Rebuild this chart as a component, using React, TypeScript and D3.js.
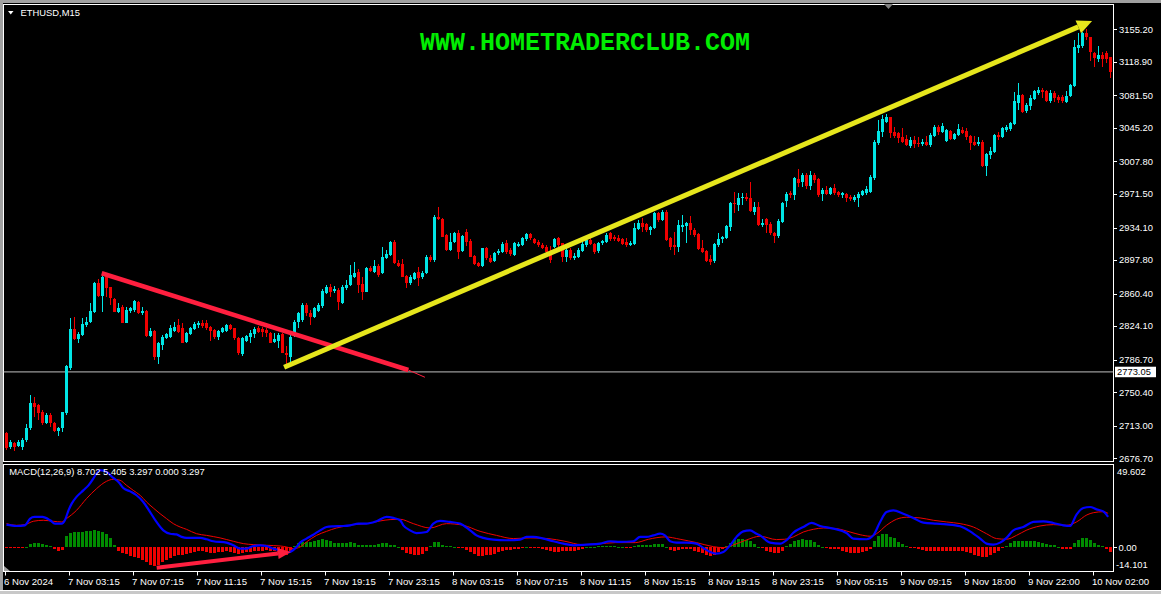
import React from 'react';
import * as d3 from 'd3';

// ---------- DATA (ETHUSD M15) ----------
const opens = [
2705.2,2689.6,2694.1,2690.4,2689.0,2697.1,2710.1,2738.7,2736.1,2728.7,
2715.7,2725.0,2716.4,2707.5,2710.1,2726.9,2777.1,2820.6,2809.8,2814.3,
2825.4,2828.4,2840.3,2872.6,2857.8,2879.3,2867.5,2854.1,2840.3,2845.8,
2828.0,2841.4,2842.1,2851.4,2838.4,2841.0,2813.2,2819.2,2790.1,2803.1,
2811.3,2812.4,2819.2,2825.4,2822.0,2806.5,2815.4,2821.0,2825.1,2828.0,
2827.3,2823.6,2819.9,2812.4,2817.6,2819.2,2825.4,2821.7,2811.3,2793.1,
2807.9,2812.4,2815.4,2821.7,2820.6,2819.9,2816.9,2806.5,2807.6,2815.4,
2794.6,2789.7,2814.3,2829.1,2831.0,2847.7,2838.5,2834.0,2841.4,2846.6,
2861.5,2868.2,2863.3,2864.4,2850.3,2866.3,2870.0,2879.3,2884.2,2871.1,
2862.6,2888.6,2884.8,2891.2,2883.8,2899.8,2903.5,2918.3,2894.9,2893.4,
2880.1,2871.9,2876.4,2884.9,2878.6,2883.1,2901.6,2897.9,2945.3,2943.1,
2925.6,2909.1,2918.3,2927.6,2907.9,2929.0,2919.5,2902.4,2894.9,2891.2,
2910.9,2899.8,2897.1,2905.3,2907.1,2916.5,2909.1,2903.5,2913.8,2914.6,
2921.0,2926.6,2921.0,2918.3,2914.6,2912.7,2907.1,2912.7,2922.8,2916.5,
2900.9,2909.1,2899.8,2900.9,2908.3,2914.6,2920.2,2915.7,2908.3,2916.5,
2918.3,2927.6,2923.2,2922.8,2921.0,2918.3,2914.6,2915.7,2932.1,2938.8,
2938.0,2931.4,2933.2,2950.0,2942.5,2951.7,2922.1,2914.6,2912.7,2935.0,
2935.8,2938.8,2931.4,2926.9,2910.9,2907.9,2898.7,2897.1,2914.6,2921.0,
2922.1,2935.0,2961.8,2959.2,2966.7,2968.5,2967.1,2951.7,2957.3,2936.9,
2943.3,2938.0,2928.3,2924.7,2940.6,2964.0,2972.4,2970.5,2987.9,2985.4,
2992.9,2980.5,2992.9,2987.9,2971.2,2976.0,2971.6,2977.9,2974.2,2970.5,
2971.6,2968.5,2964.8,2966.7,2970.5,2973.0,2974.2,2989.0,3028.1,3041.1,
3052.2,3057.1,3041.1,3039.4,3035.6,3032.6,3025.1,3031.8,3028.9,3027.3,
3029.9,3026.2,3036.3,3046.0,3041.1,3031.0,3041.8,3032.6,3037.4,3042.9,
3041.8,3036.3,3029.9,3027.3,3029.9,3002.8,3015.1,3018.8,3037.4,3034.8,
3042.9,3043.7,3050.0,3073.4,3081.9,3064.5,3069.7,3077.2,3084.5,3087.5,
3086.8,3075.6,3084.5,3080.1,3079.4,3074.5,3080.9,3092.0,3134.0,3136.6,
3151.4,3146.3,3128.5,3121.8,3126.6,3128.5,3124.0
];
const highs = [
2706.4,2697.1,2695.2,2697.1,2699.0,2714.9,2747.4,2745.4,2737.2,2730.5,
2726.9,2726.9,2717.5,2711.9,2728.7,2780.8,2832.9,2834.7,2818.0,2832.9,
2834.7,2850.3,2873.7,2876.5,2882.3,2883.1,2868.1,2855.2,2849.6,2847.7,
2845.8,2845.8,2853.3,2852.5,2845.8,2842.1,2821.8,2819.9,2806.8,2814.3,
2816.9,2825.4,2829.1,2831.8,2827.3,2818.0,2823.6,2829.1,2829.9,2831.0,
2831.0,2824.3,2820.6,2819.9,2823.6,2826.5,2826.1,2822.5,2812.4,2811.7,
2814.3,2819.9,2823.6,2824.3,2823.6,2821.7,2818.0,2816.9,2816.1,2816.1,
2801.5,2817.7,2831.0,2840.3,2849.6,2850.0,2842.1,2845.5,2850.0,2865.6,
2870.0,2871.1,2868.9,2866.7,2870.0,2875.6,2892.3,2896.1,2887.6,2879.3,
2890.1,2891.2,2897.9,2893.4,2912.7,2909.1,2919.4,2920.2,2897.9,2898.7,
2881.2,2881.2,2884.9,2890.5,2885.7,2903.5,2903.5,2948.0,2957.3,2944.2,
2926.7,2927.6,2929.4,2931.4,2925.6,2932.1,2921.0,2903.5,2896.0,2911.6,
2912.7,2903.5,2907.1,2909.7,2918.3,2920.2,2910.9,2918.3,2918.3,2924.0,
2928.3,2928.3,2922.1,2920.2,2916.5,2914.6,2913.5,2922.1,2924.0,2916.9,
2910.9,2910.9,2905.3,2911.3,2918.0,2923.2,2922.5,2916.9,2918.3,2920.2,
2927.6,2929.4,2925.8,2925.8,2922.1,2922.1,2919.0,2939.5,2942.5,2944.4,
2938.8,2935.8,2951.7,2951.7,2953.6,2953.6,2923.9,2929.4,2942.5,2948.1,
2940.6,2946.9,2933.2,2927.6,2920.2,2909.1,2903.5,2916.5,2927.6,2924.7,
2936.9,2962.9,2974.2,2973.0,2972.4,2972.4,2985.3,2962.9,2962.9,2943.3,
2944.4,2940.6,2929.4,2943.3,2962.6,2974.2,2975.3,2990.2,2999.7,2994.8,
2994.8,2997.7,2994.8,2989.1,2977.9,2980.5,2979.7,2982.7,2975.3,2974.2,
2972.4,2970.5,2970.5,2974.2,2976.0,2980.5,2992.9,3031.8,3054.1,3059.7,
3060.8,3057.8,3046.0,3040.1,3044.9,3037.4,3034.8,3036.3,3034.8,3032.6,
3036.3,3039.4,3048.6,3048.6,3050.4,3043.7,3042.9,3039.4,3049.7,3046.0,
3044.9,3037.4,3036.3,3034.8,3031.8,3017.7,3024.3,3038.5,3040.1,3046.0,
3048.6,3052.2,3085.7,3095.0,3083.1,3072.7,3081.9,3087.5,3091.2,3089.4,
3087.5,3087.5,3086.8,3081.9,3081.9,3086.8,3094.2,3143.3,3151.4,3152.5,
3155.2,3147.0,3130.2,3136.6,3130.2,3131.4,3124.7
];
const lows = [
2685.9,2686.7,2685.2,2689.6,2685.9,2695.2,2708.3,2723.1,2719.4,2713.8,
2714.9,2711.9,2706.4,2701.6,2706.4,2725.0,2775.2,2808.7,2805.0,2813.2,
2823.6,2827.3,2839.2,2857.0,2840.3,2857.0,2847.7,2839.6,2839.2,2827.3,
2827.3,2838.4,2840.3,2837.7,2836.6,2812.4,2811.7,2786.4,2781.9,2797.5,
2809.8,2810.6,2817.6,2816.9,2805.0,2805.0,2814.3,2819.9,2822.4,2821.7,
2819.9,2807.9,2810.2,2808.7,2816.1,2818.0,2819.9,2808.7,2792.0,2790.9,
2806.8,2805.0,2810.6,2816.9,2812.4,2812.4,2805.0,2805.0,2799.4,2793.9,
2780.8,2784.2,2812.4,2821.7,2829.1,2835.5,2825.4,2832.9,2839.9,2844.4,
2860.0,2857.0,2861.1,2842.1,2848.8,2864.4,2868.9,2877.8,2860.8,2853.3,
2861.9,2884.5,2883.3,2879.3,2882.3,2898.5,2902.4,2893.4,2890.1,2878.6,
2866.3,2870.0,2875.6,2868.9,2876.7,2882.3,2896.1,2896.1,2942.4,2923.1,
2908.2,2907.9,2917.2,2898.9,2907.1,2913.9,2901.0,2892.3,2889.8,2890.5,
2897.9,2894.2,2896.1,2903.5,2905.3,2904.6,2902.4,2902.4,2912.7,2913.5,
2919.4,2920.2,2915.4,2912.7,2909.8,2905.3,2894.2,2910.9,2912.7,2896.1,
2896.1,2897.9,2897.9,2899.7,2906.8,2912.7,2914.6,2904.6,2905.3,2914.6,
2917.2,2919.4,2919.4,2918.3,2914.6,2912.7,2913.5,2914.6,2931.4,2929.4,
2929.4,2925.8,2932.5,2940.6,2941.4,2919.4,2909.1,2903.5,2907.1,2929.4,
2916.5,2925.8,2923.9,2909.1,2905.3,2896.0,2892.3,2894.6,2912.7,2916.5,
2921.3,2930.5,2950.0,2952.9,2959.2,2963.7,2951.7,2948.1,2935.8,2934.4,
2927.6,2925.8,2917.2,2922.1,2939.5,2956.7,2966.7,2964.8,2979.7,2979.7,
2977.6,2976.0,2983.5,2968.5,2964.0,2970.5,2970.5,2970.5,2967.8,2966.7,
2962.9,2963.7,2962.9,2956.7,2969.4,2970.5,2973.0,2987.2,3026.2,3035.6,
3050.4,3033.8,3033.8,3028.8,3028.1,3025.1,3022.6,3022.6,3024.3,3025.1,
3024.7,3024.3,3034.8,3037.4,3040.0,3029.9,3031.8,3031.8,3036.3,3038.5,
3031.8,3020.6,3025.1,3025.1,3001.4,2991.7,3010.3,3017.7,3031.8,3033.7,
3041.1,3042.3,3048.6,3065.2,3062.3,3062.3,3065.2,3076.4,3081.9,3078.3,
3074.5,3072.7,3074.5,3073.4,3073.4,3073.4,3080.1,3090.6,3129.1,3134.0,
3143.3,3120.2,3113.5,3119.1,3113.5,3117.3,3100.6
];
const closes = [
2687.8,2695.2,2689.0,2695.2,2697.1,2710.1,2738.0,2734.2,2727.5,2715.7,
2725.0,2715.7,2707.5,2710.1,2728.0,2779.7,2821.0,2809.8,2815.4,2826.5,
2829.1,2841.0,2872.6,2857.8,2879.3,2866.3,2855.2,2840.3,2844.7,2828.0,
2842.1,2844.7,2852.2,2839.2,2841.0,2813.2,2819.2,2789.4,2805.0,2812.4,
2815.4,2821.7,2823.6,2818.0,2805.8,2816.9,2822.4,2826.2,2827.3,2824.3,
2822.4,2819.2,2811.7,2819.2,2821.7,2825.4,2821.0,2810.6,2793.9,2810.6,
2813.2,2816.9,2820.6,2818.0,2818.0,2816.1,2805.8,2809.5,2814.0,2794.6,
2792.0,2812.0,2829.1,2838.4,2847.7,2838.8,2834.0,2844.0,2847.7,2863.7,
2868.2,2862.6,2865.2,2851.4,2868.2,2870.0,2881.2,2883.8,2870.0,2862.6,
2888.6,2885.9,2891.2,2881.2,2901.6,2904.6,2918.3,2894.2,2891.2,2879.3,
2871.9,2879.3,2883.8,2877.5,2883.8,2901.6,2897.9,2946.2,2943.1,2923.7,
2909.1,2918.3,2927.6,2907.1,2924.6,2918.3,2901.6,2893.4,2891.2,2910.9,
2899.8,2896.1,2905.3,2908.2,2915.7,2907.1,2904.6,2916.5,2915.4,2922.8,
2926.6,2922.1,2916.5,2914.6,2910.9,2907.1,2897.9,2921.0,2914.6,2900.9,
2909.1,2899.8,2902.4,2909.1,2915.7,2920.2,2915.7,2907.1,2917.2,2919.4,
2925.8,2921.0,2921.0,2919.4,2915.7,2914.6,2917.2,2933.2,2939.5,2935.0,
2931.4,2935.0,2950.0,2942.5,2951.7,2920.2,2912.7,2912.7,2936.9,2936.9,
2939.5,2931.4,2925.8,2909.8,2907.1,2897.1,2896.0,2915.4,2921.0,2923.2,
2935.8,2961.1,2960.3,2967.5,2968.5,2965.6,2952.5,2957.3,2936.9,2938.8,
2936.9,2927.6,2924.7,2941.7,2961.5,2971.6,2970.5,2989.0,2983.5,2992.9,
2980.5,2992.9,2987.2,2970.5,2976.0,2971.6,2977.9,2972.4,2970.5,2972.4,
2966.7,2965.6,2967.8,2971.6,2975.3,2976.8,2990.9,3029.9,3042.3,3054.9,
3057.1,3039.4,3036.3,3033.8,3029.9,3026.2,3031.8,3027.3,3027.3,3029.9,
3026.2,3037.4,3046.0,3041.1,3047.5,3042.9,3032.6,3038.2,3043.7,3039.9,
3034.8,3028.1,3026.2,3029.9,3002.8,3016.2,3019.5,3037.4,3034.8,3044.9,
3046.6,3051.1,3075.3,3081.9,3063.4,3070.9,3078.3,3086.8,3087.5,3085.6,
3075.6,3084.5,3078.3,3076.4,3075.6,3080.9,3093.1,3135.8,3137.7,3151.4,
3146.3,3130.2,3122.9,3126.6,3121.8,3121.8,3107.9
];

const macdHist = [
-0.6,-0.6,-0.6,-0.5,-0.4,0.3,2.2,2.6,2.4,1.8,1.2,0.5,-1.0,-2.0,-1.6,
7.0,8.5,9.3,9.3,9.3,9.5,9.9,10.5,9.7,8.9,7.7,5.4,1.4,
-2.0,-3.4,-4.2,-5.0,-5.6,-6.2,-7.3,-8.9,-10.5,-11.3,
-10.5,-8.9,-7.3,-6.2,-5.4,-4.6,-4.6,-3.8,-3.4,-3.0,
-2.4,-2.4,-3.0,-3.4,-3.4,-3.0,-2.6,-2.4,-2.6,-3.4,
-3.8,-3.4,-3.0,-2.6,-2.2,-2.0,-2.0,-1.8,-2.0,-2.2,
-3.0,-4.0,-4.6,-3.0,
1.0,2.6,3.4,3.4,3.4,3.8,4.4,4.8,4.6,3.8,
2.6,2.6,2.6,2.8,3.2,2.4,1.6,1.4,1.4,1.4,
1.4,1.8,2.4,2.6,1.6,1.2,0.3,
-1.6,-3.2,-4.2,-4.4,-4.4,-3.8,-2.4,
0.6,3.0,3.4,1.6,0.8,0.6,0.2,
-0.4,-0.6,-1.4,-2.6,-4.0,-5.0,-5.0,-4.6,-4.4,-3.8,
-2.6,-2.0,-1.6,-1.4,-1.0,-0.8,-0.4,0.2,-0.2,-0.4,
-0.6,-1.0,-1.8,-2.4,-2.8,-2.8,-2.2,-2.0,-2.0,-2.4,
-1.6,-0.8,
0.2,0.4,0.4,0.6,0.6,0.8,0.8,0.6,0.4,0.2,
-0.2,-0.2,0.8,1.2,1.4,1.4,1.2,2.0,2.0,1.8,0.4,
-1.4,-2.4,-1.6,-1.2,-1.0,-1.2,-2.0,-2.8,-3.6,-4.4,-5.2,-4.4,-3.0,-1.0,
1.0,2.6,4.4,5.0,5.2,4.6,3.8,2.0,0.4,
-0.6,-2.0,-3.0,-3.4,-3.4,-2.4,
0.6,2.2,3.8,4.4,4.8,4.6,4.4,3.4,1.6,0.4,
-0.4,-0.8,-1.0,-1.2,-2.0,-2.6,-3.4,-3.4,-3.4,-3.0,-2.0,-0.8,
3.8,6.6,8.2,8.0,6.4,5.4,3.0,2.0,0.8,
-0.2,-0.4,-1.0,-1.6,-2.0,-2.2,-2.2,-2.2,-2.2,-2.0,
-2.0,-2.0,-2.0,-2.0,-2.6,-3.4,-4.6,-5.2,-5.8,-5.8,
-4.6,-3.4,-2.0,-0.6,
0.8,2.6,3.8,3.8,3.6,3.8,4.0,3.8,3.4,2.6,2.0,1.6,1.2,0.4,
-0.8,-1.0,-0.8,
2.6,4.4,5.6,5.6,4.4,2.6,1.4,0.6,
-0.8,-3.0
];

// MACD main line, sampled at bar positions
const macdMainIdx = [
0,2.5,4.6,5.9,7,9,10.9,12.1,13.8,14.6,15.5,16.3,17.5,19.2,20.5,21.7,22.5,23.4,25,26.7,
28,29.2,30.9,32.5,34.2,35.9,37.5,39.2,40.9,42.5,43.8,45,48.4,50,51.7,55,56.7,58.4,60,61.7,
63.4,65,66.7,68.4,70,70.9,72.5,73.4,75,76.7,78.4,80,81.7,84.2,85.9,88,90,92.5,95,96.7,
98.4,99.2,100.9,102.5,105,106.7,108.4,110.9,113.4,115.9,117.5,119.2,121.7,125,128.4,130,131.7,134.2,136.7,139.2,
141.7,145,148.4,150.9,153.4,156.7,158.4,160,161.7,163.4,164.6,165.9,167.5,170,172.5,174.2,175.9,177.5,179.2,180.9,
182.5,184.2,185.9,187.5,188.4,190.9,193.4,195,196.7,199.2,201.3,203.4,206.7,210,211.7,215,216.7,218.4,220,221.7,
224.2,226.7,229.2,232.5,235,238.4,240.9,243.4,245,246.7,248.4,250,251.7,254.2,256.7,259.2,261.7,264.2,265.9,267.5,
269.2,270.9,272.5,274.2,275.4
];
const macdMainVal = [
13.5,12.7,13.1,17.1,18.1,18.1,16.1,14.1,14.1,16.1,22.0,26.0,30.0,33.9,36.9,40.9,43.9,45.9,44.9,41.3,
38.9,35.3,33.3,31.0,27.0,21.0,15.1,10.1,8.1,7.7,6.2,5.6,5.6,4.8,3.6,2.8,1.2,-0.8,-0.8,0.8,
1.2,0.8,-0.8,-1.8,-3.2,-2.8,0.2,2.8,5.2,7.5,10.1,12.1,12.5,12.7,13.1,14.1,14.1,15.5,18.1,17.5,
16.1,13.1,10.1,8.5,9.1,14.1,15.7,15.1,14.1,10.1,7.1,5.6,4.6,4.2,4.6,6.2,6.2,5.2,3.6,2.2,
1.2,1.6,2.2,3.6,3.2,3.6,6.2,6.2,7.1,8.1,7.1,3.6,2.8,2.8,2.2,-0.4,-2.8,-3.8,-2.8,1.2,
6.2,9.5,10.1,8.1,7.1,2.8,2.2,4.2,8.7,12.1,14.5,12.7,11.1,8.5,5.2,4.8,7.1,15.1,21.0,22.0,
20.0,17.5,14.7,14.1,13.7,12.5,9.5,5.2,2.2,1.6,2.8,5.6,10.1,12.1,15.1,15.5,14.5,13.1,12.7,19.5,
23.4,24.0,22.6,21.4,18.1
];
// MACD signal line
const macdSignalIdx = [
0,2.5,4.6,6.7,9.2,11.7,13.8,15,17.5,20,22.5,25,26.7,28.4,30,31.7,33.4,35,36.7,38.4,
40,41.7,43.4,45,47.5,50,53.4,56.7,59.2,61.7,65,68.4,70,71.7,73.4,75,77.5,80,82.5,85,
87.5,90,93.4,95.9,98.4,101.7,105.9,110,114.2,118.4,122.5,126.7,130.9,135.4,139.6,143.8,147.9,152.2,157.2,160.5,
164.7,168.4,172.5,176.7,179.2,181.7,185,188.4,192.5,194.5,196.7,199.2,201.7,204.2,207.5,210.9,213.4,215.9,217.5,220,
222.5,225,228.4,231.7,235,238.4,241.7,245,247.5,250,252.5,254.9,258.4,261.7,265,267.5,270.1,271.7,274.2,275.4
];
const macdSignalVal = [
14.1,13.1,13.5,15.5,16.1,15.5,15.1,17.1,22.0,29.0,34.9,39.3,40.5,39.9,36.9,33.9,31.0,27.0,23.4,20.0,
17.1,14.1,12.1,10.7,8.1,7.1,5.6,3.6,2.2,1.6,1.2,0.8,0.2,-0.8,0.2,3.2,7.1,9.5,11.5,12.7,
13.7,14.1,15.7,16.5,16.7,14.1,11.5,14.1,13.1,9.5,7.1,5.2,5.6,5.2,3.6,1.6,2.0,2.8,2.8,4.8,
6.2,4.8,2.8,0.4,-0.2,1.4,4.4,6.6,4.6,4.8,6.2,9.1,10.7,11.5,11.1,9.1,7.5,6.6,8.1,13.1,
16.7,17.9,17.5,16.1,15.1,14.1,12.1,8.1,5.2,4.8,7.1,10.1,12.7,13.5,13.1,15.1,19.3,20.6,21.2,20.2
];

const priceTicks = [3155.2, 3118.9, 3081.5, 3045.2, 3007.8, 2971.5, 2934.1, 2897.8, 2860.4, 2824.1, 2786.7, 2750.4, 2713.0, 2676.7];
const timeLabels = ['6 Nov 2024', '7 Nov 03:15', '7 Nov 07:15', '7 Nov 11:15', '7 Nov 15:15', '7 Nov 19:15',
  '7 Nov 23:15', '8 Nov 03:15', '8 Nov 07:15', '8 Nov 11:15', '8 Nov 15:15', '8 Nov 19:15', '8 Nov 23:15',
  '9 Nov 05:15', '9 Nov 09:15', '9 Nov 18:00', '9 Nov 22:00', '10 Nov 02:00'];
const barsPerLabel = 16;
const hLinePrice = 2773.05;
const macdMax = 49.602;
const macdMin = -14.101;

// drawn objects: [bar index, price]
const redTrend = [[23.8, 2883.1], [100.45, 2775.2]];
const redTail = [[100.45, 2775.2], [104.6, 2767.1]];
const yellowTrend = [[69.4, 2778.3], [271.4, 3164.5]];
const macdArrow = [[37.55, -12.1], [71.1, -2.8]];

const title = 'WWW.HOMETRADERCLUB.COM';
const symbolLabel = 'ETHUSD,M15';
const macdLabel = 'MACD(12,26,9) 8.702 5.405 3.297 0.000 3.297';

// ---------- CHART ----------
const W = 1161, H = 594;
const L = 3.5, R = 1113.5;
const MAIN_T = 4.5, MAIN_B = 461.5;
const MACD_T = 464.5, MACD_B = 571.5;
const BULL = '#00e6e6', BEAR = '#f00000';
const FONT = '"Liberation Sans", Arial, sans-serif';

function arrowHead(x1: number, y1: number, x2: number, y2: number, len: number, half: number) {
  const dx = x2 - x1, dy = y2 - y1;
  const d = Math.hypot(dx, dy);
  const ux = dx / d, uy = dy / d;
  const bx = x2 - ux * len, by = y2 - uy * len;
  const px = -uy, py = ux;
  return {
    base: [bx, by],
    pts: `${x2},${y2} ${bx + px * half},${by + py * half} ${bx - px * half},${by - py * half}`,
  };
}

export default function App() {
  const N = opens.length;
  const x = d3.scaleLinear().domain([0, N]).range([5, 5 + 4 * N]);
  const y = d3.scaleLinear().domain([2676.7, 3155.2]).range([458.3, 29.3]);
  const ym = d3.scaleLinear().domain([macdMin, macdMax]).range([571, 464]);
  const cx = (i: number) => x(i) + 1.5;

  const mainLine = d3.line<number>().x((_, k) => cx(macdMainIdx[k])).y((v) => ym(v)).curve(d3.curveMonotoneX);
  const sigLine = d3.line<number>().x((_, k) => cx(macdSignalIdx[k])).y((v) => ym(v)).curve(d3.curveMonotoneX);

  const yl = { x1: cx(yellowTrend[0][0]), y1: y(yellowTrend[0][1]), x2: cx(yellowTrend[1][0]), y2: y(yellowTrend[1][1]) };
  const yArrow = arrowHead(yl.x1, yl.y1, yl.x2, yl.y2, 15, 7);
  const ma = { x1: cx(macdArrow[0][0]), y1: ym(macdArrow[0][1]), x2: cx(macdArrow[1][0]), y2: ym(macdArrow[1][1]) };
  const mArrow = arrowHead(ma.x1, ma.y1, ma.x2, ma.y2, 13, 5.5);

  const zeroY = ym(0);
  const hY = y(hLinePrice);

  return (
    <svg width={W} height={H} style={{ position: 'absolute', left: 0, top: 0, display: 'block' }}
      xmlns="http://www.w3.org/2000/svg">
      <rect x={0} y={0} width={W} height={H} fill="#000" />
      {/* window frame */}
      <rect x={0} y={0} width={W} height={3} fill="#a0a0a0" />
      <rect x={0} y={0} width={3} height={H} fill="#a0a0a0" />
      <rect x={0} y={591} width={W} height={3} fill="#c8c8c8" />
      <line x1={0} x2={W} y1={590.5} y2={590.5} stroke="#fff" />

      {/* panels */}
      <rect x={L} y={MAIN_T} width={R - L} height={MAIN_B - MAIN_T} fill="none" stroke="#fff" />
      <rect x={L} y={MACD_T} width={R - L} height={MACD_B - MACD_T} fill="none" stroke="#fff" />

      {/* horizontal line */}
      <line x1={L} x2={R} y1={hY} y2={hY} stroke="#c0c0c0" strokeWidth={1} />

      {/* candles */}
      <g shapeRendering="crispEdges">
        {opens.map((o, i) => {
          const c = closes[i];
          const col = c >= o ? BULL : BEAR;
          const top = y(Math.max(o, c));
          const bot = y(Math.min(o, c));
          return (
            <g key={i}>
              <line x1={cx(i)} x2={cx(i)} y1={y(highs[i])} y2={y(lows[i])} stroke={col} strokeWidth={1} />
              <rect x={x(i)} y={top} width={3} height={Math.max(1, bot - top)} fill={col} />
            </g>
          );
        })}
      </g>

      {/* trend lines */}
      <line x1={cx(redTrend[0][0])} y1={y(redTrend[0][1])} x2={cx(redTrend[1][0])} y2={y(redTrend[1][1])}
        stroke="#ff1f3f" strokeWidth={4.5} />
      <line x1={cx(redTail[0][0])} y1={y(redTail[0][1])} x2={cx(redTail[1][0])} y2={y(redTail[1][1])}
        stroke="#ff1f3f" strokeWidth={1} />
      <line x1={yl.x1} y1={yl.y1} x2={yArrow.base[0]} y2={yArrow.base[1]} stroke="#e6e61c" strokeWidth={5} />
      <polygon points={yArrow.pts} fill="#e6e61c" />

      {/* MACD histogram */}
      <g shapeRendering="crispEdges">
        {macdHist.map((v, i) => {
          const yy = ym(v);
          const top = Math.min(yy, zeroY);
          const h = Math.max(1, Math.abs(yy - zeroY));
          return <rect key={i} x={x(i)} y={top} width={3} height={h} fill={v >= 0 ? '#008a00' : '#f00000'} />;
        })}
      </g>
      <path d={sigLine(macdSignalVal) || ''} fill="none" stroke="#f00000" strokeWidth={1} />
      <path d={mainLine(macdMainVal) || ''} fill="none" stroke="#0000ff" strokeWidth={2.2} />
      <line x1={ma.x1} y1={ma.y1} x2={mArrow.base[0]} y2={mArrow.base[1]} stroke="#ff1f3f" strokeWidth={4} />
      <polygon points={mArrow.pts} fill="#ff1f3f" />

      {/* price axis */}
      {priceTicks.map((p, k) => (
        <g key={k}>
          <line x1={R} x2={R + 3.5} y1={Math.round(y(p)) + 0.5} y2={Math.round(y(p)) + 0.5} stroke="#fff" />
          <text x={1119} y={y(p)} dy="0.35em" fontFamily={FONT} fontSize={9.4} fill="#fff">{p.toFixed(2)}</text>
        </g>
      ))}
      <rect x={1115} y={hY - 5.2} width={41} height={10.5} fill="#fff" />
      <text x={1117} y={hY} dy="0.35em" fontFamily={FONT} fontSize={9.4} fill="#000">{hLinePrice.toFixed(2)}</text>

      {/* MACD axis */}
      <text x={1117} y={ym(macdMax) + 7.5} dy="0.35em" fontFamily={FONT} fontSize={9.4} fill="#fff">{macdMax.toFixed(3)}</text>
      <line x1={R} x2={R + 3.5} y1={Math.round(zeroY) + 0.5} y2={Math.round(zeroY) + 0.5} stroke="#fff" />
      <text x={1118.5} y={zeroY} dy="0.35em" fontFamily={FONT} fontSize={9.4} fill="#fff">0.00</text>
      <text x={1116} y={ym(macdMin) - 6} dy="0.35em" fontFamily={FONT} fontSize={9.4} fill="#fff">{macdMin.toFixed(3)}</text>

      {/* time axis */}
      {timeLabels.map((t, k) => {
        const tx = Math.round(x(k * barsPerLabel)) + 0.5;
        return (
          <g key={k}>
            <line x1={tx} x2={tx} y1={571.5} y2={575.5} stroke="#fff" />
            <text x={tx - 1.5} y={584.5} fontFamily={FONT} fontSize={9.6} fill="#fff">{t}</text>
          </g>
        );
      })}

      {/* markers */}
      <polygon points="884,4 893,4 888.5,9" fill="#808080" />
      <polygon points="4,566 4,571 10,571" fill="#a0a0a0" />
      <polygon points="8,11 13.5,11 10.75,14.5" fill="#fff" />

      {/* labels */}
      <text x={20.5} y={16.3} fontFamily={FONT} fontSize={9.4} fill="#fff">{symbolLabel}</text>
      <text x={9.3} y={475.3} fontFamily={FONT} fontSize={9.4} fill="#fff">{macdLabel}</text>
      <text x={420} y={50} fontFamily='"Liberation Mono", "Courier New", monospace' fontWeight="bold"
        fontSize={25} fill="#00ee00">{title}</text>
    </svg>
  );
}
